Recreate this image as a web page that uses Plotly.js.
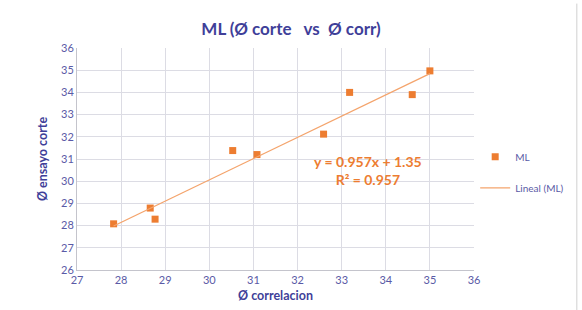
<!DOCTYPE html>
<html><head><meta charset="utf-8">
<script src="https://cdn.plot.ly/plotly-3.0.1.min.js"></script>
<style>body{margin:0;background:#fff}#c{width:582px;height:310px}</style>
</head><body><div id="c"></div>
<script>
const xCorr = [27.83, 28.66, 28.77, 30.53, 31.08, 32.59, 33.18, 34.60, 35.00];
const yCorte = [28.08, 28.79, 28.29, 31.38, 31.20, 32.12, 34.00, 33.90, 34.97];
const slope = 0.957, intercept = 1.35, r2 = 0.957;
const xTicks = [27,28,29,30,31,32,33,34,35,36];
const yTicks = [26,27,28,29,30,31,32,33,34,35,36];

const txt = '#3f3f99', tick = '#5a5aa6', orange = '#ed7d31';
const xMin = Math.min(...xCorr), xMax = Math.max(...xCorr);
const trendX = [xMin, xMax];
const trendY = trendX.map(v => slope*v + intercept);

const data = [
  {x: xCorr, y: yCorte, type: 'scatter', mode: 'markers', name: 'ML', legendgroup: 'a',
   marker: {symbol: 'square', size: 7, color: orange}},
  {x: trendX, y: trendY, type: 'scatter', mode: 'lines', name: 'Lineal (ML)', legendgroup: 'b',
   line: {color: '#f4a46c', width: 1.3}}
];
const layout = {
  width: 582, height: 310,
  margin: {l: 77, r: 108, t: 48, b: 40, autoexpand: false},
  paper_bgcolor: '#fff', plot_bgcolor: '#fff',
  font: {family: 'Lato, "Open Sans", sans-serif', color: tick, size: 11},
  title: {text: '<b>ML (Ø corte   vs  Ø corr)</b>', x: 0.5, xanchor: 'center', y: 0.905, yanchor: 'middle',
          font: {size: 17, color: txt}},
  xaxis: {range: [27, 36], tickvals: xTicks, ticktext: xTicks.map(String),
          showgrid: true, gridcolor: '#dcdce4', gridwidth: 1,
          showline: true, linecolor: '#c4c4cc', zeroline: false, ticks: '',
          tickfont: {size: 11, color: tick},
          title: {text: '<b>Ø correlacion</b>', font: {size: 12.5, color: txt}, standoff: 6}},
  yaxis: {range: [26, 36], tickvals: yTicks, ticktext: yTicks.map(String),
          showgrid: true, gridcolor: '#dcdce4', gridwidth: 1,
          showline: true, linecolor: '#c4c4cc', zeroline: false, ticks: '',
          tickfont: {size: 11, color: tick},
          title: {text: '<b>Ø ensayo corte</b>', font: {size: 12.5, color: txt}, standoff: 10}},
  legend: {x: 1.003, xanchor: 'left', y: 0.44, yanchor: 'middle', traceorder: 'grouped',
           font: {size: 10, color: tick}, tracegroupgap: 12, itemwidth: 30},
  annotations: [
    {xref: 'x', yref: 'y', x: 33.6, y: 30.46, xanchor: 'center', yanchor: 'middle', showarrow: false,
     align: 'center',
     text: '<b>y = ' + slope.toFixed(3) + 'x + ' + intercept.toFixed(2) + '<br>R² = ' + r2.toFixed(3) + '</b>',
     font: {size: 14, color: orange}}
  ],
  shapes: [
    {type: 'line', xref: 'paper', yref: 'paper', x0: 1.259, x1: 1.259, y0: -0.2, y1: 1.2,
     line: {color: '#d0d0d0', width: 1}}
  ]
};
Plotly.newPlot('c', data, layout, {displayModeBar: false, staticPlot: true});
</script></body></html>
